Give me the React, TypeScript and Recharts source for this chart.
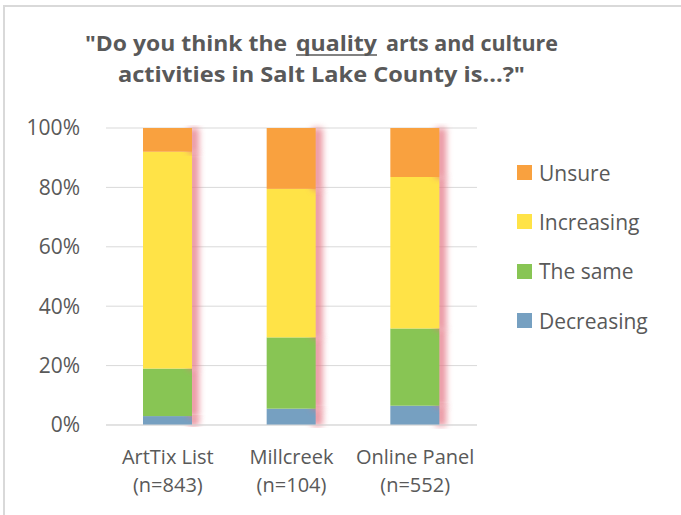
import React from "react";
import { BarChart, Bar, XAxis, YAxis, CartesianGrid, Legend } from "recharts";

const groups = ["ArtTix List", "Millcreek", "Online Panel"];
const sampleSizes = ["(n=843)", "(n=104)", "(n=552)"];
const decreasing = [3, 5.5, 6.5];
const theSame = [16, 24, 26];
const increasing = [73, 50, 51];
const unsure = [8, 20.5, 16.5];
const yTicks = [0, 0.2, 0.4, 0.6, 0.8, 1];
const legendOrder = ["Unsure", "Increasing", "The same", "Decreasing"];

const FONT = "'Open Sans', sans-serif";
const TEXT = "#595959";

const data = groups.map((g, i) => ({
  group: g,
  decreasing: decreasing[i],
  same: theSame[i],
  increasing: increasing[i],
  unsure: unsure[i],
}));

// bar segment with the soft pinkish shadow on the right like the excel original
const ShadowBar = (props: any) => {
  const { x, y, width, height, fill } = props;
  if (!height || height <= 0) return null;
  return (
    <g>
      <rect
        x={x + width - 4}
        y={y}
        width={11}
        height={height + 1}
        fill="#e47684"
        opacity={0.75}
        filter="url(#barShadow)"
      />
      <rect x={x} y={y} width={width} height={height} fill={fill} />
    </g>
  );
};

const GroupTick = ({ x, y, payload }: any) => {
  const i = groups.indexOf(payload.value);
  return (
    <text x={x} y={y} textAnchor="middle" fill={TEXT} fontSize={20} fontFamily={FONT}>
      <tspan x={x} dy={31}>{payload.value}</tspan>
      <tspan x={x} dy={28}>{sampleSizes[i]}</tspan>
    </text>
  );
};

const LegendBox = ({ payload }: any) => {
  const items = [...(payload || [])].sort(
    (a: any, b: any) => legendOrder.indexOf(a.value) - legendOrder.indexOf(b.value)
  );
  return (
    <div style={{ fontFamily: FONT, fontSize: 21, color: TEXT }}>
      {items.map((it: any) => (
        <div key={it.value} style={{ display: "flex", alignItems: "center", height: 49.3 }}>
          <span style={{ display: "inline-block", width: 15, height: 15, background: it.color, marginRight: 7 }} />
          <span>{it.value}</span>
        </div>
      ))}
    </div>
  );
};

const titleStyle = {
  fontFamily: FONT,
  fontWeight: "bold" as const,
  fontSize: 22,
  fill: TEXT,
};

export default function App() {
  return (
    <div style={{ position: "absolute", left: 0, top: 0, width: 681, height: 515, background: "#fff", overflow: "hidden" }}>
      <svg width={0} height={0} style={{ position: "absolute" }}>
        <defs>
          <filter id="barShadow" x="-100%" y="-10%" width="300%" height="120%">
            <feGaussianBlur stdDeviation={3} />
          </filter>
        </defs>
      </svg>
      <div
        style={{
          position: "absolute",
          left: 3,
          top: 5,
          width: 700,
          height: 520,
          borderLeft: "2px solid #d9d9d9",
          borderTop: "2px solid #d9d9d9",
        }}
      />
      <svg width={681} height={110} style={{ position: "absolute", left: 0, top: 0 }}>
        <text x={85} y={51} textLength={202} lengthAdjust="spacingAndGlyphs" style={titleStyle}>
          "Do you think the
        </text>
        <text x={296} y={51} textLength={81} lengthAdjust="spacingAndGlyphs" style={titleStyle}>
          quality
        </text>
        <line x1={296} x2={377} y1={55} y2={55} stroke={TEXT} strokeWidth={1.5} />
        <text x={386} y={51} textLength={172} lengthAdjust="spacingAndGlyphs" style={titleStyle}>
          arts and culture
        </text>
        <text x={118} y={82} textLength={407} lengthAdjust="spacingAndGlyphs" style={titleStyle}>
          activities in Salt Lake County is...?"
        </text>
      </svg>
      <div style={{ position: "absolute", left: 0, top: 0 }}>
        <BarChart
          width={681}
          height={515}
          data={data}
          stackOffset="expand"
          margin={{ top: 128, right: 204, left: 0, bottom: 0 }}
        >
          <CartesianGrid vertical={false} stroke="#d9d9d9" />
          <XAxis
            dataKey="group"
            height={90}
            tickLine={false}
            axisLine={{ stroke: "#d9d9d9" }}
            tick={<GroupTick />}
            interval={0}
          />
          <YAxis
            width={106}
            domain={[0, 1]}
            ticks={yTicks}
            tickFormatter={(v) => `${Math.round(v * 100)}%`}
            axisLine={false}
            tickLine={false}
            tickMargin={20}
            tick={{ fontSize: 21, fill: TEXT, fontFamily: FONT }}
          />
          <Legend
            layout="vertical"
            align="center"
            verticalAlign="middle"
            wrapperStyle={{ left: 517, top: 148, width: 164 }}
            content={<LegendBox />}
          />
          <Bar dataKey="decreasing" name="Decreasing" stackId="a" fill="#76a0c1" barSize={49} shape={<ShadowBar />} isAnimationActive={false} />
          <Bar dataKey="same" name="The same" stackId="a" fill="#88c554" barSize={49} shape={<ShadowBar />} isAnimationActive={false} />
          <Bar dataKey="increasing" name="Increasing" stackId="a" fill="#ffe347" barSize={49} shape={<ShadowBar />} isAnimationActive={false} />
          <Bar dataKey="unsure" name="Unsure" stackId="a" fill="#f9a13f" barSize={49} shape={<ShadowBar />} isAnimationActive={false} />
        </BarChart>
      </div>
    </div>
  );
}
